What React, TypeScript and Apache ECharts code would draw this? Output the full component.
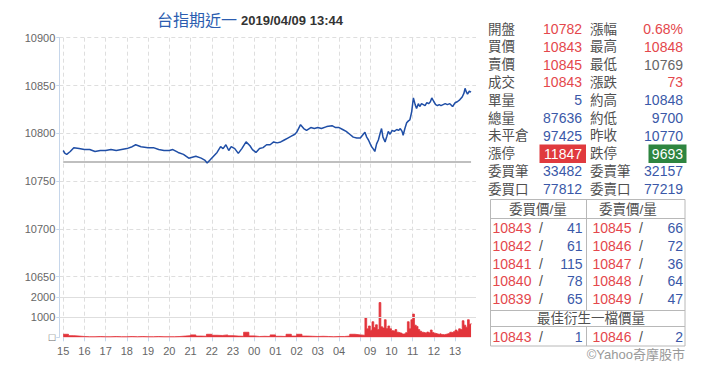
import React, { useEffect, useRef } from 'react';
import * as echarts from 'echarts';

// ---------- text data ----------
const titleName = '台指期近一';
const titleTime = '2019/04/09 13:44';
const prevClose = 10770;

const leftLabels = ['開盤', '買價', '賣價', '成交', '單量', '總量', '未平倉', '漲停', '委買筆', '委買口'];
const leftValues = ['10782', '10843', '10845', '10843', '5', '87636', '97425', '11847', '33482', '77812'];
const leftColors = ['red', 'red', 'red', 'red', 'blue', 'blue', 'blue', 'white', 'blue', 'blue'];
const rightLabels = ['漲幅', '最高', '最低', '漲跌', '約高', '約低', '昨收', '跌停', '委賣筆', '委賣口'];
const rightValues = ['0.68%', '10848', '10769', '73', '10848', '9700', '10770', '9693', '32157', '77219'];
const rightColors = ['red', 'red', 'gray', 'red', 'blue', 'blue', 'blue', 'white', 'blue', 'blue'];

const bidHeader = '委買價/量';
const askHeader = '委賣價/量';
const bidPrices = [10843, 10842, 10841, 10840, 10839];
const bidQty = [41, 61, 115, 78, 65];
const askPrices = [10845, 10846, 10847, 10848, 10849];
const askQty = [66, 72, 36, 64, 47];
const bestHeader = '最佳衍生一檔價量';
const bestBid = [10843, 1];
const bestAsk = [10846, 2];
const copyright = '©Yahoo奇摩股市';

// ---------- price series (time, value) ----------
const priceTimes = [
  '15:00', '15:05', '15:10', '15:20', '15:30', '15:45', '16:00', '16:15', '16:30', '16:45',
  '17:00', '17:15', '17:30', '17:45', '18:00', '18:15', '18:25', '18:40', '19:00', '19:15',
  '19:30', '19:45', '20:00', '20:10', '20:25', '20:40', '20:55', '21:05', '21:15', '21:30',
  '21:40', '21:47', '21:55', '22:05', '22:15', '22:25', '22:32', '22:40', '22:48', '22:55',
  '23:05', '23:15', '23:25', '23:37', '23:48', '23:55', '00:05', '00:15', '00:25', '00:35',
  '00:45', '00:55', '01:05', '01:15', '01:25', '01:35', '01:45', '01:55', '02:00', '02:11',
  '02:20', '02:28', '02:40', '02:50', '03:00', '03:10', '03:25', '03:40', '03:50', '04:00',
  '04:10', '04:20', '04:30', '04:40', '04:50', '05:00',
  '08:45', '08:50', '08:55', '09:00', '09:04', '09:08', '09:13', '09:18', '09:23', '09:28',
  '09:32', '09:36', '09:42', '09:47', '09:51', '09:56', '10:02', '10:08', '10:15', '10:20',
  '10:25', '10:30', '10:33', '10:38', '10:43', '10:48', '10:52', '10:57', '11:02', '11:07',
  '11:11', '11:16', '11:20', '11:25', '11:30', '11:35', '11:40', '11:45', '11:50', '11:54',
  '12:00', '12:05', '12:10', '12:15', '12:20', '12:26', '12:32', '12:38', '12:45', '12:50',
  '12:53', '13:00', '13:06', '13:13', '13:20', '13:25', '13:28', '13:32', '13:35', '13:40',
  '13:45',
];
const priceValues = [
  10782, 10779, 10778, 10781, 10785, 10784, 10783, 10783, 10781, 10782,
  10782, 10783, 10782, 10783, 10784, 10786, 10788, 10786, 10785, 10785,
  10783, 10782, 10782, 10783, 10780, 10778, 10774, 10775, 10776, 10774,
  10772, 10769, 10772, 10776, 10780, 10786, 10784, 10788, 10782, 10786,
  10784, 10779, 10784, 10791, 10787, 10783, 10780, 10784, 10785, 10788,
  10788, 10791, 10790, 10791, 10793, 10795, 10797, 10799, 10801, 10809,
  10805, 10803, 10806, 10805, 10806, 10805, 10807, 10808, 10806, 10806,
  10804, 10802, 10799, 10796, 10795, 10795,
  10801, 10796, 10793, 10789, 10786, 10784, 10781, 10789, 10793, 10800,
  10805, 10796, 10791, 10797, 10802, 10799, 10803, 10802, 10804, 10803,
  10805, 10802, 10798, 10805, 10811, 10813, 10814, 10822, 10837, 10830,
  10826, 10831, 10828, 10831, 10830, 10829, 10832, 10831, 10833, 10837,
  10833, 10830, 10829, 10830, 10829, 10830, 10831, 10830, 10831, 10829,
  10828, 10832, 10833, 10835, 10838, 10842, 10847, 10843, 10841, 10844,
  10843,
];

// ---------- volume series ----------
const nightVolStart = '15:00';
const nightVolStep = 15;
const nightVol = [
  150, 80, 60, 40, 30, 30, 40, 30, 30, 40, 30, 30, 40, 30, 40, 30, 30, 40, 30, 30,
  30, 40, 60, 80, 120, 60, 50, 150, 100, 90, 120, 80, 60, 50, 250, 70, 40, 50, 40, 120,
  50, 40, 150, 60, 150, 60, 50, 40, 50, 40, 30, 40, 40, 60, 150, 120, 100,
];
const dayVolStart = '08:45';
const dayVolStep = 5;
const dayVol = [
  960, 420, 560, 350, 770, 480, 620, 380, 1720, 520, 460, 870, 430, 560, 420, 330, 300, 380, 250, 220,
  200, 160, 180, 230, 770, 420, 870, 1150, 600, 540, 380, 300, 250, 230, 200, 260, 220, 360, 240, 200,
  170, 150, 180, 140, 130, 150, 170, 200, 250, 220, 280, 360, 300, 420, 380, 820, 600, 500, 870, 640,
  700,
];

// ---------- helpers ----------
const pad = (n: number) => (n < 10 ? '0' + n : '' + n);
const hhmm = (m: number) => pad(Math.floor((m % 1440) / 60)) + ':' + pad(m % 60);
const toMin = (s: string) => parseInt(s.slice(0, 2), 10) * 60 + parseInt(s.slice(3), 10);

function buildCategories() {
  const cats: string[] = [];
  for (let i = 0; i < 11; i++) cats.push('_a' + i);
  for (let m = 15 * 60; m <= 15 * 60 + 840; m++) cats.push(hhmm(m));
  for (let i = 0; i < 12; i++) cats.push('_b' + i);
  for (let m = 8 * 60 + 45; m <= 13 * 60 + 45; m++) cats.push(hhmm(m));
  for (let i = 0; i < 14; i++) cats.push('_c' + i);
  return cats;
}

const RED = '#e4474c';
const BLUE = '#3a58a8';
const GRAY = '#666666';
const LABEL = '#505050';
const colorOf = (c: string) => (c === 'red' ? RED : c === 'blue' ? BLUE : c === 'gray' ? GRAY : '#ffffff');
const CJK = '"Noto Sans CJK TC", "Noto Sans CJK SC", sans-serif';
const CJKL = '"Liberation Sans", "Noto Sans CJK TC", sans-serif';
const NUM = '"Liberation Sans", Arial, sans-serif';

export default function App() {
  const ref = useRef<HTMLDivElement>(null);

  useEffect(() => {
    if (!ref.current) return;
    const chart = echarts.init(ref.current, undefined, { renderer: 'svg' });

    const cats = buildCategories();
    const idx = new Map<string, number>();
    cats.forEach((c, i) => idx.set(c, i));

    const priceData: (number | null)[] = cats.map(() => null);
    priceTimes.forEach((t, i) => { priceData[idx.get(t)!] = priceValues[i]; });

    const prevData: (number | null)[] = cats.map(() => null);
    prevData[idx.get(priceTimes[0])!] = prevClose;
    prevData[idx.get(priceTimes[priceTimes.length - 1])!] = prevClose;

    const volData: (number | null)[] = cats.map(() => null);
    const ns = toMin(nightVolStart);
    nightVol.forEach((v, i) => { volData[idx.get(hhmm(ns + i * nightVolStep))!] = v; });
    const ds = toMin(dayVolStart);
    dayVol.forEach((v, i) => { volData[idx.get(hhmm(ds + i * dayVolStep))!] = v; });

    const isHour = (_i: number, v: string) => /^\d\d:00$/.test(v);
    const isLabel = (_i: number, v: string) => /^\d\d:00$/.test(v) && v !== '05:00';

    const gridLine = { color: '#dedede', type: [4, 3] as any, width: 1 };
    const axisBlue = '#c6d6ea';

    // ---------- graphic (title + quote panel) ----------
    const g: any[] = [];
    const txt = (x: number, y: number, text: string, fill: string, font: string, align = 'left') =>
      g.push({ type: 'text', x, y, style: { text, fill, font, align, verticalAlign: 'middle', lineHeight: 15 } });

    txt(157, 19, titleName, '#2c5db0', `16px ${CJK}`);
    txt(241, 20, titleTime, '#333333', `bold 13px ${NUM}`);

    const rowY0 = 29;
    const rowH = 17.8;
    leftLabels.forEach((lab, i) => {
      const y = rowY0 + i * rowH;
      if (i === 7) {
        g.push({ type: 'rect', shape: { x: 539.5, y: y - 9, width: 46.5, height: 18.5 }, style: { fill: '#e03a3e' } });
        g.push({ type: 'rect', shape: { x: 648.5, y: y - 9, width: 38, height: 18.5 }, style: { fill: '#2e8540' } });
      }
      txt(488, y, lab, LABEL, `13.5px ${CJKL}`);
      txt(582, y, leftValues[i], colorOf(leftColors[i]), `14px ${NUM}`, 'right');
      txt(590, y, rightLabels[i], LABEL, `13.5px ${CJKL}`);
      txt(683, y, rightValues[i], colorOf(rightColors[i]), `14px ${NUM}`, 'right');
    });

    // table frame
    const border = { stroke: '#b8b8b8', lineWidth: 1 };
    g.push({ type: 'rect', shape: { x: 490.5, y: 199.5, width: 194.5, height: 146.5 }, style: { fill: 'none', ...border } });
    g.push({ type: 'line', shape: { x1: 586.5, y1: 199.5, x2: 586.5, y2: 310.5 }, style: border });
    g.push({ type: 'line', shape: { x1: 586.5, y1: 326.5, x2: 586.5, y2: 346 }, style: border });
    [218.5, 310.5, 326.5].forEach((y) => g.push({ type: 'line', shape: { x1: 490.5, y1: y, x2: 685, y2: y }, style: border }));

    txt(509, 209, bidHeader, LABEL, `13.5px ${CJKL}`);
    txt(599, 209, askHeader, LABEL, `13.5px ${CJKL}`);

    const bookRow = (y: number, bp: number, bq: number, ap: number, aq: number) => {
      txt(492.5, y, String(bp), RED, `14px ${NUM}`);
      txt(541, y, '/', LABEL, `14px ${NUM}`, 'center');
      txt(582.5, y, String(bq), BLUE, `14px ${NUM}`, 'right');
      txt(592.5, y, String(ap), RED, `14px ${NUM}`);
      txt(641, y, '/', LABEL, `14px ${NUM}`, 'center');
      txt(683, y, String(aq), BLUE, `14px ${NUM}`, 'right');
    };
    bidPrices.forEach((p, i) => bookRow(227.7 + i * 17.9, p, bidQty[i], askPrices[i], askQty[i]));
    txt(591, 318.5, bestHeader, LABEL, `13.5px ${CJKL}`, 'center');
    bookRow(336.7, bestBid[0], bestBid[1], bestAsk[0], bestAsk[1]);
    txt(685, 354.5, copyright, '#999999', `13px ${CJKL}`, 'right');

    const option: any = {
      animation: false,
      backgroundColor: '#ffffff',
      grid: [
        { left: 59.3, right: 244, top: 37.7, height: 239 },
        { left: 59.3, right: 244, top: 276.7, height: 60.6 },
      ],
      xAxis: [
        {
          type: 'category', gridIndex: 0, data: cats, boundaryGap: false,
          axisLine: { show: false }, axisTick: { show: false }, axisLabel: { show: false },
          splitLine: { show: true, interval: isHour, lineStyle: gridLine },
        },
        {
          type: 'category', gridIndex: 1, data: cats, boundaryGap: false,
          axisLine: { show: false },
          axisTick: { show: true, interval: isHour, length: 4, lineStyle: { color: axisBlue } },
          axisLabel: {
            show: true, interval: isLabel, formatter: (v: string) => v.slice(0, 2),
            color: '#666', fontSize: 11, fontFamily: NUM, margin: 8,
          },
          splitLine: { show: true, interval: isHour, lineStyle: gridLine },
        },
      ],
      yAxis: [
        {
          type: 'value', gridIndex: 0, min: 10650, max: 10900, interval: 50,
          axisLine: { show: true, lineStyle: { color: axisBlue } },
          axisTick: { show: true, length: 3, lineStyle: { color: axisBlue } },
          axisLabel: { color: '#666', fontSize: 11, fontFamily: NUM, margin: 4, formatter: (v: number) => String(v) },
          splitLine: { show: true, lineStyle: gridLine },
        },
        {
          type: 'value', gridIndex: 1, min: 0, max: 3000, interval: 1000,
          axisLine: { show: true, lineStyle: { color: axisBlue } },
          axisTick: { show: true, length: 3, lineStyle: { color: axisBlue } },
          axisLabel: {
            color: '#666', fontSize: 11, fontFamily: NUM, margin: 4,
            formatter: (v: number) => (v === 0 ? '□' : v === 3000 ? '' : String(v)),
          },
          splitLine: { show: false },
        },
      ],
      series: [
        {
          type: 'line', xAxisIndex: 0, yAxisIndex: 0, data: prevData, connectNulls: true,
          showSymbol: false, symbol: 'none', silent: true,
          lineStyle: { color: '#aaaaaa', width: 1.5 },
        },
        {
          type: 'line', xAxisIndex: 0, yAxisIndex: 0, data: priceData, connectNulls: true,
          showSymbol: false, symbol: 'none',
          lineStyle: { color: '#1f4ea6', width: 1.5 },
        },
        {
          type: 'line', xAxisIndex: 1, yAxisIndex: 1, data: volData, connectNulls: true,
          step: 'end', showSymbol: false, symbol: 'none',
          lineStyle: { color: '#e2343b', width: 0.8 },
          areaStyle: { color: '#e2343b', opacity: 1 },
          markLine: {
            silent: true, symbol: 'none', label: { show: false },
            lineStyle: { color: '#dedede', type: 'solid', width: 1 },
            data: [{ yAxis: 1000 }, { yAxis: 2000 }],
          },
          z: 3,
        },
      ],
      graphic: g,
    };

    chart.setOption(option);
    return () => chart.dispose();
  }, []);

  return (
    <div
      ref={ref}
      style={{ position: 'absolute', left: 0, top: 0, width: 720, height: 379 }}
    />
  );
}
